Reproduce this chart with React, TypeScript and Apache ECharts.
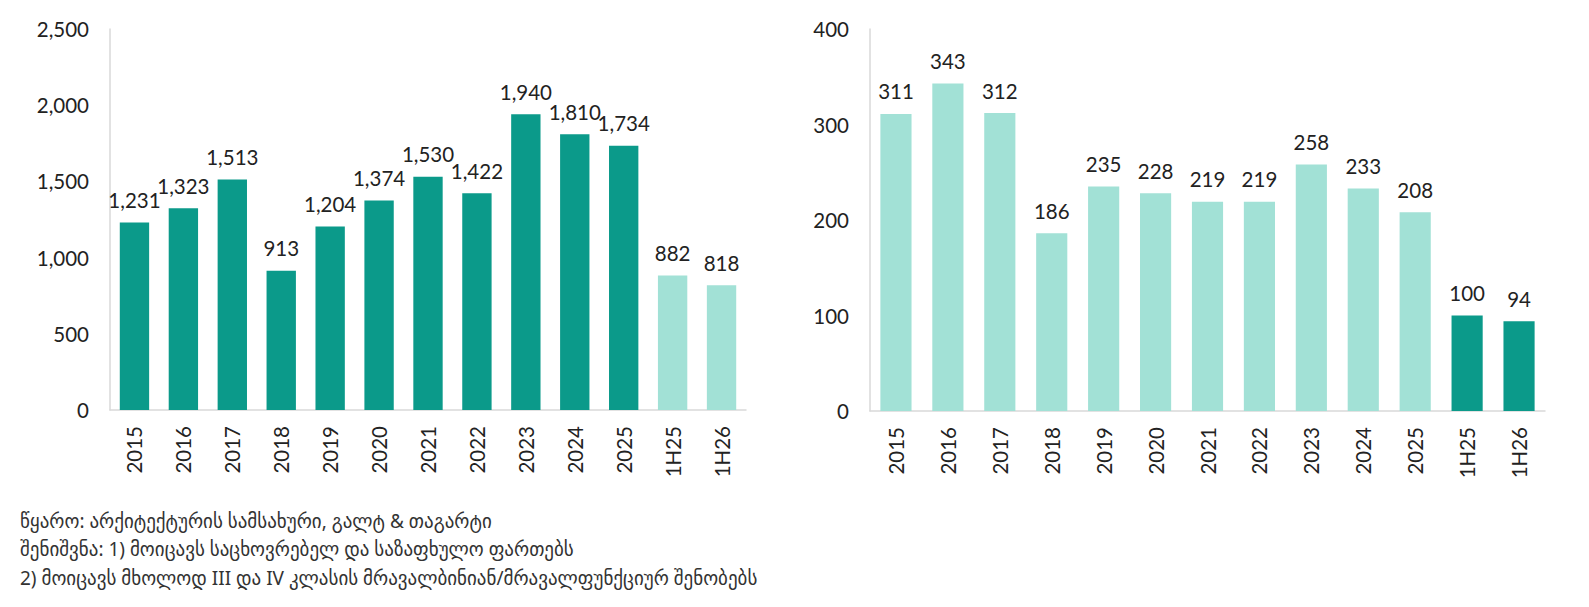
import React, { useEffect, useRef } from "react";
import * as echarts from "echarts";

const categories = ["2015", "2016", "2017", "2018", "2019", "2020", "2021", "2022", "2023", "2024", "2025", "1H25", "1H26"];
const leftValues = [1231, 1323, 1513, 913, 1204, 1374, 1530, 1422, 1940, 1810, 1734, 882, 818];
const rightValues = [311, 343, 312, 186, 235, 228, 219, 219, 258, 233, 208, 100, 94];
const leftHighlight = [true, true, true, true, true, true, true, true, true, true, true, false, false];
const footerLines = [
  "წყარო: არქიტექტურის სამსახური, გალტ & თაგარტი",
  "შენიშვნა: 1) მოიცავს საცხოვრებელ და საზაფხულო ფართებს",
  "2) მოიცავს მხოლოდ III და IV კლასის მრავალბინიან/მრავალფუნქციურ შენობებს",
];

const DARK = "#0b9a8a";
const LIGHT = "#a2e1d6";
const FONT = "Lato, 'Noto Sans', sans-serif";
const TEXT = "#222222";
const AXIS = "#d9d9d9";

export default function App() {
  const ref = useRef<HTMLDivElement>(null);
  useEffect(() => {
    if (!ref.current) return;
    const chart = echarts.init(ref.current, null, { renderer: "svg" });
    const xAxisCommon = (gridIndex: number) => ({
      type: "category" as const,
      gridIndex,
      data: categories,
      axisLine: { show: true, lineStyle: { color: AXIS, width: 1.5 } },
      axisTick: { show: false },
      axisLabel: { rotate: 90, color: TEXT, fontSize: 20.5, fontFamily: FONT, margin: 16 },
    });
    const yAxisCommon = (gridIndex: number, max: number, interval: number) => ({
      type: "value" as const,
      gridIndex,
      min: 0,
      max,
      interval,
      axisLine: { show: true, lineStyle: { color: AXIS, width: 1.5 } },
      axisTick: { show: false },
      splitLine: { show: false },
      axisLabel: {
        color: TEXT,
        fontSize: 20.5,
        fontFamily: FONT,
        margin: 21,
        formatter: (v: number) => v.toLocaleString("en-US"),
      },
    });
    const labelCommon = {
      show: true,
      position: "top" as const,
      distance: 12,
      color: TEXT,
      fontSize: 20.5,
      fontFamily: FONT,
      formatter: (p: any) => Number(p.value).toLocaleString("en-US"),
    };
    chart.setOption({
      animation: false,
      grid: [
        { left: 110, top: 29, width: 636, bottom: 197 },
        { left: 870, top: 29, width: 675, bottom: 196 },
      ],
      xAxis: [xAxisCommon(0), xAxisCommon(1)],
      yAxis: [yAxisCommon(0, 2500, 500), yAxisCommon(1, 400, 100)],
      series: [
        {
          type: "bar",
          xAxisIndex: 0,
          yAxisIndex: 0,
          barWidth: "60%",
          data: leftValues.map((v, i) => ({ value: v, itemStyle: { color: leftHighlight[i] ? DARK : LIGHT } })),
          label: labelCommon,
        },
        {
          type: "bar",
          xAxisIndex: 1,
          yAxisIndex: 1,
          barWidth: "60%",
          data: rightValues.map((v, i) => ({ value: v, itemStyle: { color: leftHighlight[i] ? LIGHT : DARK } })),
          label: labelCommon,
        },
      ],
      graphic: footerLines.map((t, i) => ({
        type: "text",
        left: 20,
        top: 511 + i * 28.5,
        style: { text: t, fontSize: 19, fontFamily: "'Noto Sans', 'DejaVu Sans', sans-serif", fill: "#333333" },
      })),
    });
    return () => chart.dispose();
  }, []);
  return <div ref={ref} style={{ position: "fixed", left: 0, top: 0, width: 1589, height: 607, background: "#fff" }} />;
}
